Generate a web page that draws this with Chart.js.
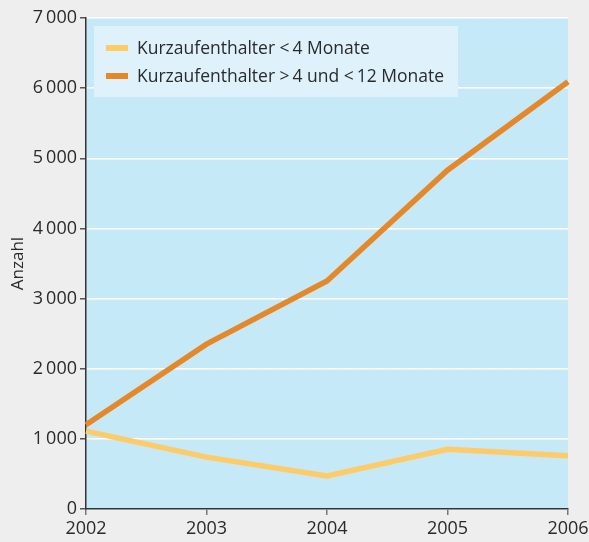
<!DOCTYPE html>
<html>
<head>
<meta charset="utf-8">
<script src="https://cdn.jsdelivr.net/npm/chart.js@4"></script>
<style>
  html, body { margin: 0; padding: 0; background: #eeeeee; }
  #wrap { width: 589px; height: 542px; position: relative; }
</style>
</head>
<body>
<div id="wrap"><canvas id="chart" width="589" height="542"></canvas></div>
<script>
// values
var years = ['2002', '2003', '2004', '2005', '2006'];
var shortStay = [1110, 740, 470, 850, 760];      // < 4 Monate
var longerStay = [1200, 2350, 3250, 4830, 6090]; // > 4 und < 12 Monate
var seriesNames = ['Kurzaufenthalter <\u20094 Monate', 'Kurzaufenthalter >\u20094 und <\u200912 Monate'];
var seriesColors = ['#fdcb68', '#e4882a'];

var FONT = '"Open Sans", "Noto Sans", sans-serif';

// light blue plot area
var plotBg = {
  id: 'plotBg',
  beforeDraw: function (chart) {
    var a = chart.chartArea, ctx = chart.ctx;
    ctx.save();
    ctx.fillStyle = '#c6e9f8';
    ctx.fillRect(a.left, a.top, a.right - a.left, a.bottom - a.top);
    ctx.restore();
  }
};

// legend box sitting inside the plot
var boxLegend = {
  id: 'boxLegend',
  afterDatasetsDraw: function (chart) {
    var ctx = chart.ctx;
    var x0 = 94, y0 = 26, w = 364, h = 71;
    ctx.save();
    ctx.fillStyle = '#dff2fc';
    ctx.fillRect(x0, y0, w, h);
    ctx.font = '17.5px ' + FONT;
    ctx.textBaseline = 'middle';
    chart.data.datasets.forEach(function (ds, i) {
      var cy = 48 + i * 28;
      ctx.fillStyle = ds.borderColor;
      ctx.fillRect(106, cy - 3, 22, 6);
      ctx.fillStyle = '#2a2a2a';
      ctx.fillText(ds.label, 137, cy + 1);
    });
    ctx.restore();
  }
};

function fmt(v) {
  if (v < 1000) return String(v);
  var s = String(v);
  return s.slice(0, s.length - 3) + '\u2009' + s.slice(-3);
}

new Chart(document.getElementById('chart'), {
  type: 'line',
  data: {
    labels: years,
    datasets: [
      { label: seriesNames[0], data: shortStay, borderColor: seriesColors[0], backgroundColor: seriesColors[0] },
      { label: seriesNames[1], data: longerStay, borderColor: seriesColors[1], backgroundColor: seriesColors[1] }
    ]
  },
  options: {
    responsive: false,
    animation: false,
    layout: { padding: { top: 18, right: 21, left: 0, bottom: 0 } },
    elements: {
      line: { borderWidth: 5.5, tension: 0, borderCapStyle: 'butt' },
      point: { radius: 0 }
    },
    plugins: {
      legend: { display: false },
      tooltip: { enabled: false }
    },
    scales: {
      x: {
        offset: false,
        grid: { drawOnChartArea: false, drawTicks: true, tickLength: 6, tickColor: '#777', lineWidth: 1.5 },
        border: { color: '#333', width: 1.5 },
        ticks: { color: '#2a2a2a', font: { family: FONT, size: 18 }, padding: 3, maxRotation: 0, autoSkip: false },
        afterFit: function (s) { s.height = 33; s.paddingLeft = 0; s.paddingRight = 0; }
      },
      y: {
        min: 0, max: 7000,
        grid: { color: '#ffffff', lineWidth: 1.5, tickLength: 6, tickColor: '#555' },
        border: { color: '#333', width: 1.5 },
        ticks: { stepSize: 1000, color: '#2a2a2a', font: { family: FONT, size: 18 }, padding: 3, callback: function (v) { return fmt(v); } },
        title: { display: true, text: 'Anzahl', color: '#2a2a2a', font: { family: FONT, size: 17 }, padding: { top: 8, bottom: 0 } },
        afterFit: function (s) { s.width = 86; }
      }
    }
  },
  plugins: [plotBg, boxLegend]
});
</script>
</body>
</html>
